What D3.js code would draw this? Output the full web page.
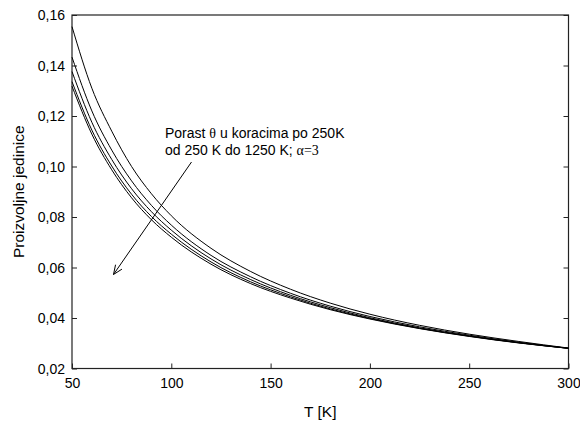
<!DOCTYPE html>
<html>
<head>
<meta charset="utf-8">
<script src="https://cdn.jsdelivr.net/npm/d3@7"></script>
<style>
  body { margin: 0; background: #fff; }
  text { font-family: Arial, "Liberation Sans", sans-serif; fill: #000; }
</style>
</head>
<body>
<svg id="chart" width="580" height="423"></svg>
<script>
// temperature grid (K)
var temps = [50, 60, 70, 80, 90, 100, 120, 140, 160, 180, 200, 225, 250, 275, 300];

// curves, theta = 250 .. 1250 K
var curve1 = [0.1554, 0.1310, 0.1140, 0.1000, 0.0892, 0.0805, 0.0676, 0.0584, 0.0514, 0.0459, 0.0415, 0.0371, 0.0336, 0.0307, 0.0281];
var curve2 = [0.1433, 0.1220, 0.1065, 0.0943, 0.0846, 0.0768, 0.0648, 0.0563, 0.0498, 0.0447, 0.0406, 0.0365, 0.0332, 0.0304, 0.0280];
var curve3 = [0.1376, 0.1175, 0.1028, 0.0912, 0.0821, 0.0748, 0.0634, 0.0552, 0.0490, 0.0441, 0.0401, 0.0361, 0.0329, 0.0302, 0.0280];
var curve4 = [0.1336, 0.1144, 0.1002, 0.0890, 0.0802, 0.0732, 0.0622, 0.0543, 0.0484, 0.0436, 0.0398, 0.0359, 0.0328, 0.0302, 0.0280];
var curve5 = [0.1318, 0.1128, 0.0987, 0.0876, 0.0789, 0.0720, 0.0613, 0.0536, 0.0479, 0.0433, 0.0396, 0.0358, 0.0327, 0.0301, 0.0280];
var curves = [curve1, curve2, curve3, curve4, curve5];

var xTicks = [50, 100, 150, 200, 250, 300];
var yTicks = [0.02, 0.04, 0.06, 0.08, 0.10, 0.12, 0.14, 0.16];

var margin = {top: 15, right: 11.5, bottom: 54.5, left: 72};
var width = 580 - margin.left - margin.right;
var height = 423 - margin.top - margin.bottom;

var svg = d3.select("#chart");
var g = svg.append("g")
    .attr("transform", "translate(" + margin.left + "," + margin.top + ")");

var x = d3.scaleLinear().domain([50, 300]).range([0, width]);
var y = d3.scaleLinear().domain([0.02, 0.16]).range([height, 0]);

var fmt = function (d) { return d3.format(".2f")(d).replace(".", ","); };

// frame
g.append("rect")
    .attr("x", 0).attr("y", 0)
    .attr("width", width).attr("height", height)
    .attr("fill", "none")
    .attr("stroke", "#222")
    .attr("stroke-width", 1.2);

// axes with inward ticks
var xAxis = g.append("g")
    .attr("transform", "translate(0," + height + ")")
    .call(d3.axisBottom(x).tickValues(xTicks).tickSizeInner(-5).tickSizeOuter(0).tickPadding(12));
var yAxis = g.append("g")
    .call(d3.axisLeft(y).tickValues(yTicks).tickFormat(fmt).tickSizeInner(-5).tickSizeOuter(0).tickPadding(12));
var yAxisR = g.append("g")
    .attr("transform", "translate(" + width + ",0)")
    .call(d3.axisRight(y).tickValues(yTicks).tickSizeInner(-5).tickSizeOuter(0).tickFormat(""));

[xAxis, yAxis, yAxisR].forEach(function (a) {
    a.select(".domain").remove();
    a.selectAll(".tick line").attr("stroke", "#222");
    a.selectAll("text")
        .style("font-family", "Arial, 'Liberation Sans', sans-serif")
        .style("font-size", "14px")
        .attr("fill", "#000");
});
yAxis.selectAll("text").attr("x", -7).attr("dy", "0.35em");
xAxis.selectAll("text").attr("y", 10).attr("dy", "0.71em");

// curves
var line = d3.line()
    .x(function (d, i) { return x(temps[i]); })
    .y(function (d) { return y(d); })
    .curve(d3.curveMonotoneX);

g.selectAll(".curve")
    .data(curves)
    .enter().append("path")
    .attr("class", "curve")
    .attr("d", line)
    .attr("fill", "none")
    .attr("stroke", "#000")
    .attr("stroke-width", 1);

// annotation
var note = g.append("text")
    .attr("x", 165 - margin.left)
    .attr("y", 138 - margin.top)
    .style("font-size", "14px");
note.append("tspan").text("Porast ");
note.append("tspan").style("font-family", "'Liberation Serif', 'DejaVu Serif', serif").text("\u03b8");
note.append("tspan").text(" u koracima po 250K");

var note2 = g.append("text")
    .attr("x", 165 - margin.left)
    .attr("y", 155 - margin.top)
    .style("font-size", "14px");
note2.append("tspan").text("od 250 K do 1250 K; ");
note2.append("tspan").style("font-family", "'Liberation Serif', 'DejaVu Serif', serif").text("\u03b1=3");

// arrow
var ax1 = 191.5 - margin.left, ay1 = 162 - margin.top;
var ax2 = 113.5 - margin.left, ay2 = 274.5 - margin.top;
g.append("line")
    .attr("x1", ax1).attr("y1", ay1)
    .attr("x2", ax2).attr("y2", ay2)
    .attr("stroke", "#000").attr("stroke-width", 1);
var ang = Math.atan2(ay1 - ay2, ax1 - ax2);
var hl = 10, spread = 0.4;
g.append("path")
    .attr("d", "M" + (ax2 + hl * Math.cos(ang - spread)) + "," + (ay2 + hl * Math.sin(ang - spread)) +
        "L" + ax2 + "," + ay2 +
        "L" + (ax2 + hl * Math.cos(ang + spread)) + "," + (ay2 + hl * Math.sin(ang + spread)))
    .attr("fill", "none").attr("stroke", "#000").attr("stroke-width", 1);

// axis titles
svg.append("text")
    .attr("x", margin.left + width / 2)
    .attr("y", 417)
    .attr("text-anchor", "middle")
    .style("font-size", "15.5px")
    .text("T [K]");

svg.append("text")
    .attr("transform", "translate(24," + (margin.top + height / 2) + ") rotate(-90)")
    .attr("text-anchor", "middle")
    .style("font-size", "15.5px")
    .text("Proizvoljne jedinice");
</script>
</body>
</html>
